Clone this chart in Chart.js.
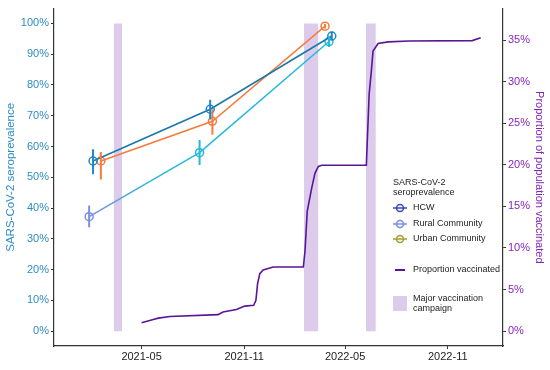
<!DOCTYPE html>
<html><head><meta charset="utf-8">
<script src="https://cdn.jsdelivr.net/npm/chart.js@4/dist/chart.umd.min.js"></script>
<style>html,body{margin:0;padding:0;background:#fff}#wrap{width:550px;height:370px;position:relative}</style>
</head><body><div id="wrap"><canvas id="c" width="550" height="370"></canvas></div>
<script>
// ---- data ----
const xTickDates = ['2021-05-01','2021-11-01','2022-05-01','2022-11-01'];
const xTickLabels = ['2021-05','2021-11','2022-05','2022-11'];
const leftTicks = [0,10,20,30,40,50,60,70,80,90,100];
const rightTicks = [0,5,10,15,20,25,30,35];

const campaignStart = ['2021-03-12','2022-02-16','2022-06-07'];
const campaignEnd   = ['2021-03-27','2022-03-14','2022-06-25'];

const hcwDates = ['2021-02-03','2021-09-01','2022-04-07'];
const hcwVals  = [55.3, 72.1, 95.9];
const hcwLo    = [51.0, 68.8, 94.5];
const hcwHi    = [59.1, 75.2, 97.3];

const ruralDates = ['2021-01-27','2021-08-13','2022-04-02'];
const ruralVals  = [37.2, 58.0, 94.1];
const ruralLo    = [33.8, 54.0, 92.3];
const ruralHi    = [40.8, 62.1, 95.8];

const urbanDates = ['2021-02-17','2021-09-05','2022-03-26'];
const urbanVals  = [55.3, 68.2, 99.1];
const urbanLo    = [49.3, 63.8, 98.3];
const urbanHi    = [58.2, 72.1, 99.8];

const vaxDates = ['2021-05-01','2021-05-22','2021-05-31','2021-06-21','2021-09-15','2021-09-24','2021-10-18','2021-11-02','2021-11-18','2021-11-22','2021-11-25','2021-11-29','2021-12-05','2021-12-23','2022-02-15','2022-02-18','2022-02-22','2022-03-02','2022-03-08','2022-03-14','2022-03-20','2022-06-08','2022-06-13','2022-06-17','2022-06-20','2022-06-29','2022-07-17','2022-08-24','2022-12-15','2022-12-30'];
const vaxPct   = [1.0,1.4,1.55,1.75,1.98,2.3,2.6,3.0,3.1,3.7,5.7,6.9,7.35,7.7,7.7,9.6,14.4,17.2,19.0,19.8,19.95,19.95,28.5,31.3,33.7,34.6,34.8,34.9,34.95,35.3];

const legendTitle = ['SARS-CoV-2','seroprevalence'];
const legendSeries = ['HCW','Rural Community','Urban Community'];
const legendVax = 'Proportion vaccinated';
const legendCampaign = ['Major vaccination','campaign'];

// ---- helpers ----
const EPOCH = Date.UTC(2021,4,1);
function day(s){const [y,m,d]=s.split('-').map(Number);return (Date.UTC(y,m-1,d)-EPOCH)/86400000;}
const FONT = '"Liberation Sans", Arial, Helvetica, sans-serif';

const C_HCW = '#1877ab', C_HCW_PT = '#1f86c8';
const C_URB = '#f47c3c';
const C_RUR = '#24b9d9', C_RUR0 = '#7e8ee2';
const C_VAX = '#5a1496';
const C_BAND = '#dccbeb';

const datasets = [];
campaignStart.forEach((s,i)=>{
  datasets.push({type:'line', data:[{x:day(s),y:100},{x:day(campaignEnd[i]),y:100}],
    yAxisID:'yL', fill:{value:0}, backgroundColor:C_BAND, borderWidth:0, pointRadius:0, order:20});
});
datasets.push({type:'line', data:vaxDates.map((d,i)=>({x:day(d),y:vaxPct[i]})), yAxisID:'yR',
  borderColor:C_VAX, borderWidth:1.6, pointRadius:0, fill:false, tension:0, order:5});

function series(dates, vals, lo, hi, lineColor, ptColors, errColors, segFn){
  datasets.push({type:'line', data:dates.map((d,i)=>({x:day(d),y:vals[i]})), yAxisID:'yL',
    borderColor:lineColor, borderWidth:1.5, pointRadius:4, pointBorderWidth:1.5,
    pointBorderColor:ptColors, pointBackgroundColor:'rgba(0,0,0,0)', fill:false, order:2,
    segment: segFn ? {borderColor: segFn} : undefined});
  dates.forEach((d,i)=>{
    datasets.push({type:'line', data:[{x:day(d),y:lo[i]},{x:day(d),y:hi[i]}], yAxisID:'yL',
      borderColor:errColors[i], borderWidth:2, pointRadius:0, fill:false, order:1});
  });
}
series(hcwDates,hcwVals,hcwLo,hcwHi,C_HCW,C_HCW_PT,[C_HCW_PT,C_HCW_PT,C_HCW_PT]);
series(urbanDates,urbanVals,urbanLo,urbanHi,C_URB,C_URB,[C_URB,C_URB,C_URB]);
series(ruralDates,ruralVals,ruralLo,ruralHi,C_RUR,[C_RUR0,C_RUR,C_RUR],[C_RUR0,C_RUR,C_RUR],
  (ctx)=>{ if(ctx.p0DataIndex===0){ const g=ctx.chart.ctx.createLinearGradient(ctx.p0.x,0,ctx.p1.x,0);
      g.addColorStop(0,C_RUR0); g.addColorStop(0.6,C_RUR); g.addColorStop(1,C_RUR); return g;} return C_RUR; });

const legendPlugin = {
  id:'customLegend',
  afterDraw(chart){
    const ctx = chart.ctx; ctx.save();
    ctx.font = '9px '+FONT; ctx.fillStyle='#222'; ctx.textBaseline='middle'; ctx.textAlign='left';
    ctx.fillText(legendTitle[0],393,183); ctx.fillText(legendTitle[1],393,193);
    const cols=['#3c48b0','#7a8ce6','#a89f2e']; const ys=[208,224,239];
    legendSeries.forEach((t,i)=>{
      ctx.strokeStyle=cols[i]; ctx.lineWidth=1.5;
      ctx.beginPath(); ctx.moveTo(393,ys[i]); ctx.lineTo(407,ys[i]); ctx.stroke();
      ctx.beginPath(); ctx.arc(400,ys[i],3.5,0,Math.PI*2); ctx.stroke();
      ctx.fillStyle='#222'; ctx.fillText(t,413,ys[i]);
    });
    ctx.strokeStyle=C_VAX; ctx.lineWidth=2;
    ctx.beginPath(); ctx.moveTo(395,270); ctx.lineTo(405,270); ctx.stroke();
    ctx.fillText(legendVax,413,270);
    ctx.fillStyle=C_BAND; ctx.fillRect(393,296,14,15);
    ctx.fillStyle='#222'; ctx.fillText(legendCampaign[0],413,299); ctx.fillText(legendCampaign[1],413,309);
    ctx.restore();
  }
};

const tickMap = {}; xTickDates.forEach((d,i)=>tickMap[day(d)]=xTickLabels[i]);

new Chart(document.getElementById('c'), {
  data:{datasets},
  options:{
    responsive:false, animation:false, devicePixelRatio:1,
    layout:{padding:{top:5,left:0,right:0,bottom:0}},
    plugins:{legend:{display:false}, tooltip:{enabled:false}},
    scales:{
      x:{type:'linear', min:-157, max:648,
        afterBuildTicks(s){s.ticks=xTickDates.map(d=>({value:day(d)}));},
        afterFit(s){s.height=24;},
        ticks:{callback:v=>tickMap[v], font:{family:FONT,size:11}, color:'#222', padding:1, maxRotation:0, autoSkip:false},
        grid:{display:true, drawOnChartArea:false, drawTicks:true, tickLength:3, color:'#333'},
        border:{display:true, color:'#333', width:1.2}},
      yL:{type:'linear', position:'left', min:-4.8, max:104.8,
        afterBuildTicks(s){s.ticks=leftTicks.map(v=>({value:v}));},
        afterFit(s){s.width=54;},
        ticks:{callback:v=>v+'%', font:{family:FONT,size:11}, color:'#2e8cc4', padding:2},
        grid:{display:true, drawOnChartArea:false, drawTicks:true, tickLength:3, color:'#333'},
        border:{display:true, color:'#333', width:1.2},
        title:{display:true, text:'SARS-CoV-2 seroprevalence', color:'#2e8cc4', font:{family:FONT,size:11.5}}},
      yR:{type:'linear', position:'right', min:-1.8, max:38.8,
        afterBuildTicks(s){s.ticks=rightTicks.map(v=>({value:v}));},
        afterFit(s){s.width=47;},
        ticks:{callback:v=>v+'%', font:{family:FONT,size:11}, color:'#8526b8', padding:2},
        grid:{display:true, drawOnChartArea:false, drawTicks:true, tickLength:3, color:'#333'},
        border:{display:true, color:'#333', width:1.2},
        title:{display:true, text:'Proportion of population vaccinated', color:'#8526b8', font:{family:FONT,size:11}}}
    }
  },
  plugins:[legendPlugin]
});
</script></body></html>
